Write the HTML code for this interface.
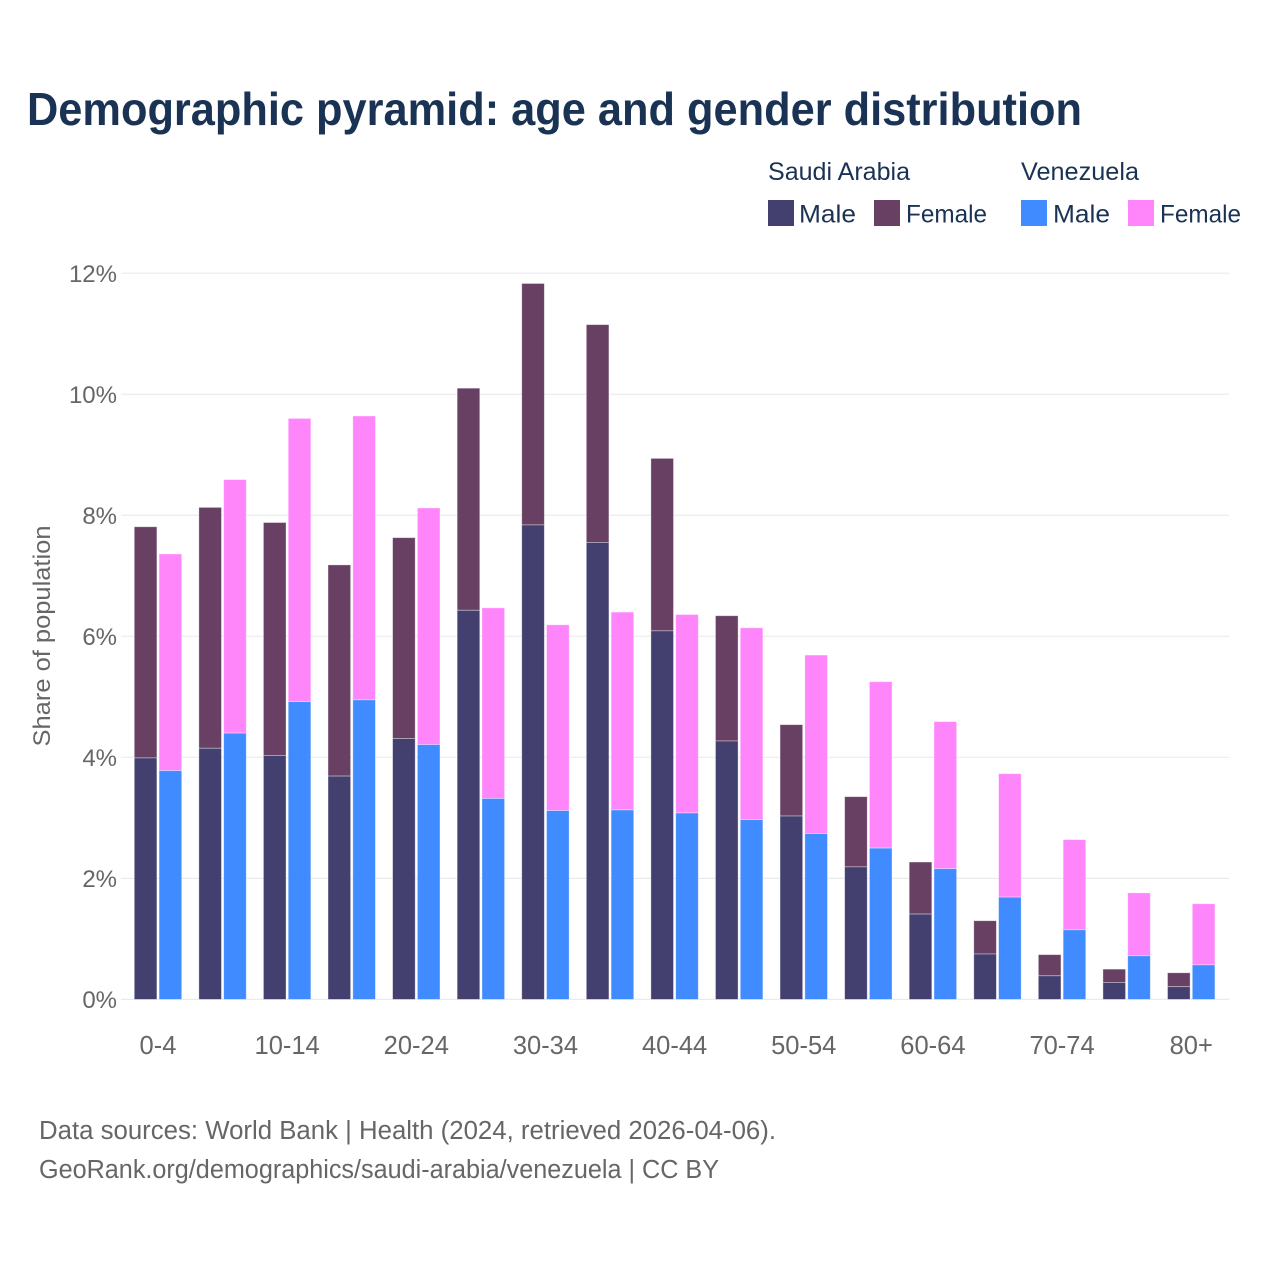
<!DOCTYPE html>
<html lang="en">
<head>
<meta charset="utf-8">
<title>Demographic pyramid</title>
<style>
html,body{margin:0;padding:0;background:#fff;}
svg{display:block;font-family:"Liberation Sans",sans-serif;}
.legend{fill:#1a3354;font-size:25px;}
.tick{fill:#666;font-size:24px;}
.xtick{fill:#666;font-size:25.5px;}
.note{fill:#666;font-size:25.5px;}
</style>
</head>
<body>
<svg id="chart" width="1280" height="1280" viewBox="0 0 1280 1280" xmlns="http://www.w3.org/2000/svg">
  <rect x="0" y="0" width="1280" height="1280" fill="#fff"/>
  <text x="27" y="125" font-size="46" font-weight="700" fill="#1a3354" textLength="1055" lengthAdjust="spacingAndGlyphs">Demographic pyramid: age and gender distribution</text>

  <g>
    <text class="legend" x="768" y="180" textLength="142" lengthAdjust="spacingAndGlyphs">Saudi Arabia</text>
    <rect x="768" y="200" width="26" height="26" fill="#434070"/>
    <text class="legend" x="799" y="222.5" textLength="57" lengthAdjust="spacingAndGlyphs">Male</text>
    <rect x="874" y="200" width="26" height="26" fill="#684063"/>
    <text class="legend" x="906" y="222.5" textLength="81" lengthAdjust="spacingAndGlyphs">Female</text>
    <text class="legend" x="1021" y="180" textLength="118" lengthAdjust="spacingAndGlyphs">Venezuela</text>
    <rect x="1021" y="200" width="26" height="26" fill="#408bff"/>
    <text class="legend" x="1053" y="222.5" textLength="57" lengthAdjust="spacingAndGlyphs">Male</text>
    <rect x="1128" y="200" width="26" height="26" fill="#ff85fa"/>
    <text class="legend" x="1160" y="222.5" textLength="81" lengthAdjust="spacingAndGlyphs">Female</text>
  </g>

  <g id="grid"></g>
  <g id="yLabels"></g>
  <g id="bars"></g>
  <g id="xLabels"></g>

  <text class="tick" transform="translate(50,636) rotate(-90)" text-anchor="middle" textLength="221" lengthAdjust="spacingAndGlyphs">Share of population</text>

  <text class="note" x="39" y="1139" textLength="737" lengthAdjust="spacingAndGlyphs">Data sources: World Bank | Health (2024, retrieved 2026-04-06).</text>
  <text class="note" x="39" y="1178" textLength="680" lengthAdjust="spacingAndGlyphs">GeoRank.org/demographics/saudi-arabia/venezuela | CC BY</text>
</svg>
<script>
const ageGroups = ["0-4","5-9","10-14","15-19","20-24","25-29","30-34","35-39","40-44","45-49","50-54","55-59","60-64","65-69","70-74","75-79","80+"];
const saudiMale = [3.99,4.15,4.03,3.69,4.31,6.43,7.84,7.55,6.09,4.27,3.03,2.19,1.41,0.75,0.39,0.28,0.21];
const saudiFemale = [3.82,3.98,3.85,3.49,3.32,3.67,3.99,3.60,2.85,2.07,1.51,1.16,0.86,0.55,0.35,0.22,0.23];
const venezuelaMale = [3.78,4.40,4.92,4.95,4.21,3.32,3.12,3.13,3.08,2.97,2.74,2.50,2.16,1.69,1.15,0.72,0.57];
const venezuelaFemale = [3.58,4.19,4.68,4.69,3.91,3.15,3.07,3.27,3.28,3.17,2.95,2.75,2.43,2.04,1.49,1.04,1.01];
const yTicks = [0,2,4,6,8,10,12];

const NS = "http://www.w3.org/2000/svg";
const plotLeft = 125.7, plotRight = 1223.5, plotBottom = 999.4, plotTop = 273.2, yMax = 12;
const band = (plotRight - plotLeft) / ageGroups.length;
const barOffset = 12.4, barWidth = 22.6;
function xScale(i) { return plotLeft + band * (i + 0.5); }
function yScale(v) { return plotBottom - (v / yMax) * (plotBottom - plotTop); }
function make(tag, attrs, parent) {
  const el = document.createElementNS(NS, tag);
  for (const k in attrs) el.setAttribute(k, attrs[k]);
  parent.appendChild(el);
  return el;
}

const grid = document.getElementById("grid");
const yLabels = document.getElementById("yLabels");
yTicks.forEach(function (t) {
  const y = yScale(t);
  const line = make("line", {x1: 121, x2: 1229, y1: y, y2: y, stroke: "#ebebeb", "stroke-width": 1.2}, grid);
  
  
  const label = make("text", {x: 117, y: y + 8.6, "text-anchor": "end", class: "tick"}, yLabels);
  label.textContent = t + "%";
  
  
});

const barsGroup = document.getElementById("bars");
function stack(i, cx, maleVal, femaleVal, maleColor, femaleColor) {
  const x = cx - barWidth / 2;
  const yMale = yScale(maleVal);
  const yTotal = yScale(maleVal + femaleVal);
  const f = make("rect", {x: x, y: yTotal, width: barWidth, height: yMale - yTotal, fill: femaleColor, stroke: "#fff", "stroke-opacity": 0.45, "stroke-width": 0.8}, barsGroup);
  
  
  const m = make("rect", {x: x, y: yMale, width: barWidth, height: plotBottom - yMale, fill: maleColor, stroke: "#fff", "stroke-opacity": 0.45, "stroke-width": 0.8}, barsGroup);
  
  
}
const xLabels = document.getElementById("xLabels");
ageGroups.forEach(function (g, i) {
  const cx = xScale(i);
  stack(i, cx - barOffset, saudiMale[i], saudiFemale[i], "#434070", "#684063");
  stack(i, cx + barOffset, venezuelaMale[i], venezuelaFemale[i], "#408bff", "#ff85fa");
  if (i % 2 === 0) {
    const t = make("text", {x: cx, y: 1054, "text-anchor": "middle", class: "xtick"}, xLabels);
    t.textContent = g;
    
    
  }
});
</script>
</body>
</html>
